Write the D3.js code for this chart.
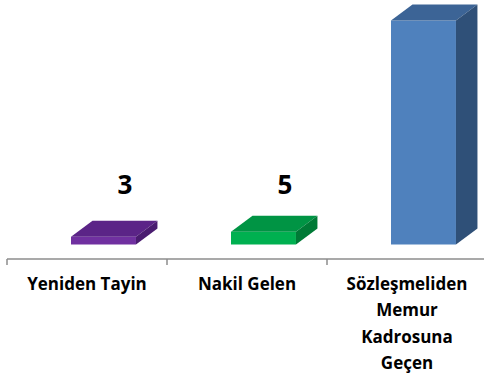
<!DOCTYPE html>
<html>
<head>
<meta charset="utf-8">
<script src="https://cdn.jsdelivr.net/npm/d3@7"></script>
<style>
  html, body { margin: 0; padding: 0; background: #fff; }
  svg { display: block; }
</style>
</head>
<body>
<svg id="chart" width="484" height="381"></svg>
<script>
// Categories and their counts
const categories = ["Yeniden Tayin", "Nakil Gelen", "Sözleşmeliden Memur Kadrosuna Geçen"];
const values = [3, 5, 88];
const showValueLabel = [true, true, false];

// Face colours for each box: front, top, side
const frontColors = ["#7030a0", "#00b050", "#4f81bd"];
const topColors   = ["#5b2487", "#009444", "#3c6496"];
const sideColors  = ["#4a1c70", "#007a36", "#2f5078"];

const axisY = 259;
const baseY = 244.5;       // front bottom edge of the boxes
const depthX = 21.5, depthY = 16;
const fontFamily = "'Open Sans', Lato, sans-serif";

const svg = d3.select("#chart");

const x = d3.scaleBand().domain(categories).range([7, 487]);
const y = d3.scaleLinear().domain([0, 100]).range([baseY, -10]);

const barOffset = x.bandwidth() * 0.4;
const barWidth = x.bandwidth() * 0.406;

const rows = categories.map((c, i) => ({ c, v: values[i], i }));

const bars = svg.append("g").selectAll("g")
  .data(rows)
  .join("g");

bars.each(function (d) {
  const g = d3.select(this);
  const x0 = x(d.c) + barOffset;
  const x1 = x0 + barWidth;
  const yt = y(d.v);
  const yb = y(0);
  const pts = a => a.map(p => p.join(",")).join(" ");
  // front face
  g.append("polygon")
    .attr("points", pts([[x0, yt], [x1, yt], [x1, yb], [x0, yb]]))
    .attr("fill", frontColors[d.i]);
  // top face
  g.append("polygon")
    .attr("points", pts([[x0, yt], [x1, yt], [x1 + depthX, yt - depthY], [x0 + depthX, yt - depthY]]))
    .attr("fill", topColors[d.i]);
  // side face
  g.append("polygon")
    .attr("points", pts([[x1, yt], [x1 + depthX, yt - depthY], [x1 + depthX, yb - depthY], [x1, yb]]))
    .attr("fill", sideColors[d.i]);
});

// value labels share one baseline above the tallest labelled box
const labelled = rows.filter(d => showValueLabel[d.i]);
const labelY = y(d3.max(labelled, d => d.v)) - depthY - 21.5;
svg.append("g").selectAll("text")
  .data(labelled)
  .join("text")
  .attr("x", d => x(d.c) + barOffset + barWidth / 2 + depthX)
  .attr("y", labelY)
  .attr("text-anchor", "middle")
  .attr("font-family", fontFamily)
  .attr("font-weight", "bold")
  .attr("font-size", 26)
  .attr("fill", "#000")
  .text(d => d.v);

// category axis line with boundary ticks
const bounds = categories.map(c => x(c)).concat([x(categories[categories.length - 1]) + x.bandwidth()]);
svg.append("path")
  .attr("d", `M${bounds[0]},${axisY}H${bounds[bounds.length - 1]}`)
  .attr("stroke", "#8c8c8c").attr("stroke-width", 1.5).attr("fill", "none");
svg.append("g").selectAll("line")
  .data(bounds)
  .join("line")
  .attr("x1", d => d).attr("x2", d => d)
  .attr("y1", axisY).attr("y2", axisY + 6)
  .attr("stroke", "#8c8c8c").attr("stroke-width", 1.5);

// category labels, split word by word when too wide
const labelG = svg.append("g")
  .attr("font-family", fontFamily)
  .attr("font-weight", "bold")
  .attr("font-size", 17)
  .attr("fill", "#000");

categories.forEach(c => {
  const cx = x(c) + x.bandwidth() / 2;
  const t = labelG.append("text")
    .attr("x", cx).attr("y", 290)
    .attr("text-anchor", "middle")
    .text(c);
  if (t.node().getComputedTextLength() > 140) {
    t.text(null);
    c.split(" ").forEach((w, k) => {
      t.append("tspan").attr("x", cx).attr("y", 290 + k * 26.3).text(w);
    });
  }
});
</script>
</body>
</html>
